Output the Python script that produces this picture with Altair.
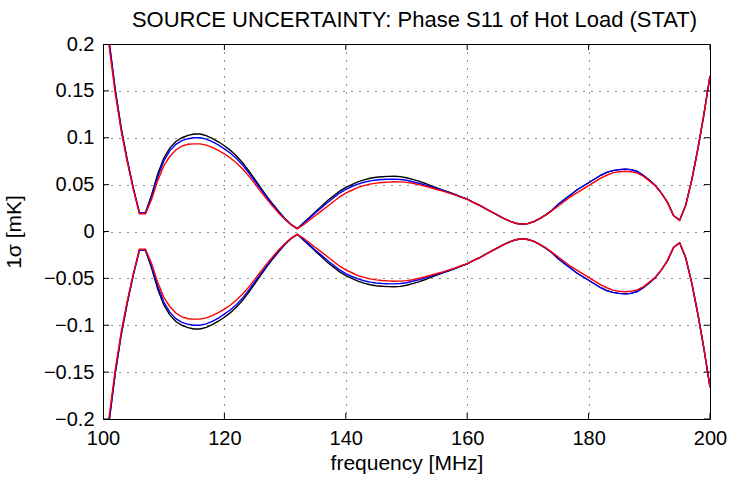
import altair as alt
import pandas as pd

# ---------------- data ----------------
freq = list(range(100, 201))

black = [0.260, 0.203, 0.152, 0.110, 0.076, 0.046, 0.020, 0.020, 0.039, 0.061,
         0.078, 0.089, 0.096, 0.100, 0.1025, 0.104, 0.104, 0.1022, 0.0993, 0.0957,
         0.0915, 0.0865, 0.0805, 0.0733, 0.0648, 0.0558, 0.0465, 0.0375, 0.029, 0.021,
         0.0137, 0.0075, 0.003, 0.009, 0.015, 0.021, 0.027, 0.033, 0.038, 0.043,
         0.047, 0.050, 0.053, 0.055, 0.0568, 0.0578, 0.0584, 0.0588, 0.059, 0.0585,
         0.0573, 0.0556, 0.0538, 0.0515, 0.049, 0.0466, 0.0442, 0.042, 0.0395, 0.037,
         0.0345, 0.031, 0.028, 0.0245, 0.021, 0.0175, 0.014, 0.011, 0.0088, 0.0078,
         0.0085, 0.0105, 0.014, 0.018, 0.023, 0.029, 0.034, 0.039, 0.044, 0.048,
         0.052, 0.056, 0.060, 0.063, 0.065, 0.066, 0.0665, 0.066, 0.064, 0.060,
         0.055, 0.049, 0.041, 0.031, 0.017, 0.012, 0.028, 0.055, 0.088, 0.125,
         0.166]

blue = [0.260, 0.203, 0.152, 0.110, 0.076, 0.046, 0.020, 0.020, 0.037, 0.058,
        0.075, 0.086, 0.093, 0.097, 0.099, 0.100, 0.100, 0.0985, 0.0958, 0.0923,
        0.0882, 0.0835, 0.0778, 0.0708, 0.0626, 0.0539, 0.045, 0.0363, 0.028, 0.0203,
        0.0133, 0.0073, 0.003, 0.0085, 0.014, 0.020, 0.0255, 0.031, 0.036, 0.041,
        0.045, 0.048, 0.0505, 0.0525, 0.054, 0.0549, 0.0555, 0.0558, 0.0559, 0.0555,
        0.0546, 0.0531, 0.0515, 0.0497, 0.0477, 0.0457, 0.0437, 0.0416, 0.0392, 0.0368,
        0.0345, 0.031, 0.028, 0.0245, 0.021, 0.0175, 0.014, 0.011, 0.0088, 0.0078,
        0.0085, 0.0105, 0.014, 0.018, 0.023, 0.029, 0.034, 0.039, 0.044, 0.048,
        0.052, 0.056, 0.060, 0.063, 0.065, 0.066, 0.0665, 0.066, 0.064, 0.060,
        0.055, 0.049, 0.041, 0.031, 0.017, 0.012, 0.028, 0.055, 0.088, 0.125,
        0.166]

red = [0.255, 0.198, 0.148, 0.107, 0.074, 0.045, 0.019, 0.019, 0.034, 0.054,
       0.070, 0.080, 0.087, 0.091, 0.093, 0.0935, 0.0935, 0.0922, 0.0898, 0.0866,
       0.0828, 0.0784, 0.0731, 0.0667, 0.0593, 0.051, 0.0425, 0.0343, 0.0265, 0.0193,
       0.0127, 0.007, 0.003, 0.007, 0.012, 0.017, 0.022, 0.027, 0.032, 0.037,
       0.041, 0.044, 0.047, 0.049, 0.0505, 0.0516, 0.0523, 0.0527, 0.053, 0.0529,
       0.0524, 0.0514, 0.050, 0.0485, 0.0467, 0.0448, 0.043, 0.041, 0.039, 0.0365,
       0.0342, 0.031, 0.028, 0.0245, 0.021, 0.0175, 0.014, 0.011, 0.0088, 0.0078,
       0.0085, 0.0105, 0.014, 0.0178, 0.0223, 0.0272, 0.032, 0.037, 0.041, 0.045,
       0.049, 0.053, 0.057, 0.060, 0.0625, 0.0638, 0.0642, 0.0638, 0.0622, 0.059,
       0.054, 0.0485, 0.041, 0.031, 0.017, 0.012, 0.028, 0.055, 0.088, 0.125,
       0.166]

series_names = ["black", "blue", "red"]
series_colors = ["#000000", "#0000ff", "#ff0000"]

x_ticks = [100, 120, 140, 160, 180, 200]
y_ticks = [-0.2, -0.15, -0.1, -0.05, 0, 0.05, 0.1, 0.15, 0.2]

title_text = "SOURCE UNCERTAINTY: Phase S11 of Hot Load (STAT)"
x_title = "frequency [MHz]"
y_title = "1σ [mK]"

# ---------------- tables ----------------
rows = []
for name, vals in zip(series_names, (black, blue, red)):
    for f, v in zip(freq, vals):
        rows.append({"f": f, "v": v, "s": name, "b": "upper"})
        rows.append({"f": f, "v": -v, "s": name, "b": "lower"})
df = pd.DataFrame(rows)

xtick_df = pd.DataFrame({"f": x_ticks * 2,
                         "v": [y_ticks[0]] * len(x_ticks) + [y_ticks[-1]] * len(x_ticks)})
ytick_df = pd.DataFrame({"f": [x_ticks[0]] * len(y_ticks) + [x_ticks[-1]] * len(y_ticks),
                         "v": y_ticks * 2})

FONT = "Liberation Sans"

xs = alt.Scale(domain=[x_ticks[0], x_ticks[-1]], nice=False, zero=False)
ys = alt.Scale(domain=[y_ticks[0], y_ticks[-1]], nice=False, zero=False)

x_axis = alt.Axis(values=x_ticks, title=x_title, grid=True, gridDash=[1, 7],
                  gridColor="#000000", gridOpacity=0.85, gridWidth=1,
                  ticks=False, domain=False, labelFlush=False, labelOverlap=False,
                  labelFont=FONT, labelFontSize=20, labelColor="#000000",
                  labelPadding=9, titleFont=FONT, titleFontSize=21,
                  titleFontWeight="normal", titleColor="#000000", titlePadding=4)
y_axis = alt.Axis(values=y_ticks, title=y_title, grid=True, gridDash=[1, 7],
                  gridColor="#000000", gridOpacity=0.85, gridWidth=1,
                  ticks=False, domain=False, labelFlush=False, labelOverlap=False,
                  format=".2~f",
                  labelFont=FONT, labelFontSize=20, labelColor="#000000",
                  labelPadding=9, titleFont=FONT, titleFontSize=21,
                  titleFontWeight="normal", titleColor="#000000", titlePadding=19)

X = alt.X("f:Q", scale=xs, axis=x_axis)
Y = alt.Y("v:Q", scale=ys, axis=y_axis)

layers = []
for name, col in zip(series_names, series_colors):
    layers.append(
        alt.Chart(df)
        .transform_filter(alt.datum.s == name)
        .mark_line(color=col, strokeWidth=1.4, clip=True)
        .encode(x=X, y=Y, detail="b:N", order="f:Q")
    )

xt = alt.Chart(xtick_df).mark_tick(orient="vertical", size=12, thickness=1,
                                   color="#000000", opacity=1, clip=True).encode(x=X, y=Y)
yt = alt.Chart(ytick_df).mark_tick(orient="horizontal", size=12, thickness=1,
                                   color="#000000", opacity=1, clip=True).encode(x=X, y=Y)

chart = (
    alt.layer(*layers, xt, yt)
    .properties(
        width=607, height=375,
        title=alt.TitleParams(title_text, font=FONT, fontSize=22, fontWeight="normal",
                              color="#000000", anchor="middle", frame="group",
                              dx=8, offset=2),
        autosize=alt.AutoSizeParams(type="none"),
        padding={"left": 103, "top": 44, "right": 21, "bottom": 58},
        background="#ffffff",
    )
    .configure_view(stroke="#000000", strokeWidth=1)
)

chart.save("out.html", embed_options={"renderer": "svg", "actions": False})
